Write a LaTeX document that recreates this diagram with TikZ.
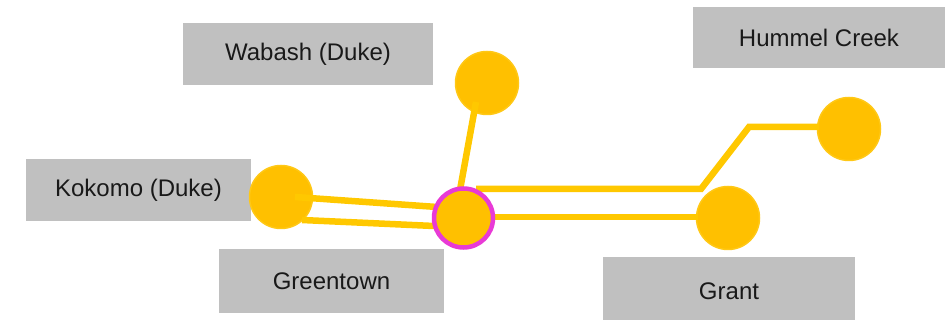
\documentclass[tikz,border=0pt]{standalone}
\usepackage{fontspec}
\setmainfont{Liberation Sans}
\definecolor{boxgray}{HTML}{C0C0C0}
\definecolor{dotfill}{HTML}{FFC000}
\definecolor{dotedge}{HTML}{FFC816}
\definecolor{linecol}{HTML}{FFC800}
\definecolor{hubring}{HTML}{E83AD6}
\tikzset{
  lbl/.style={fill=boxgray, draw=none, inner sep=0pt, font=\fontsize{24}{28}\selectfont, text=black!90},
  dot/.style={circle, fill=dotfill, draw=dotedge, line width=1.5pt, minimum size=63pt, inner sep=0pt},
  hub/.style={circle, fill=dotfill, draw=hubring, line width=4.5pt, minimum size=59pt, inner sep=0pt},
  wire/.style={draw=linecol, line width=6.5pt}
}
\begin{document}
\begin{tikzpicture}[x=1pt,y=-1pt]
\useasboundingbox (0,0) rectangle (951,320);
% labels
\node[lbl, minimum width=250pt, minimum height=62pt] (lwab) at (308,54) {Wabash (Duke)};
\node[lbl, minimum width=252pt, minimum height=61pt] (lhum) at (819,37.5) {Hummel Creek};
\node[lbl, minimum width=225pt, minimum height=62pt] (lkok) at (138.5,190) {Kokomo (Duke)};
\node[lbl, minimum width=225pt, minimum height=64pt] (lgre) at (331.5,281) {Greentown};
\node[lbl, minimum width=252pt, minimum height=68pt] (lgra) at (729,291) {};
\node[font=\fontsize{24}{28}\selectfont, text=black!90] (tgra) at (729,291) {Grant};
% circles
\node[dot] (wab) at (487,83) {};
\node[dot] (kok) at (281,197) {};
\node[dot] (hum) at (849,129) {};
\node[dot] (gra) at (728,218) {};
% connector ends
\coordinate (w1) at (476,102);
\coordinate (w2) at (460,190);
\coordinate (k1) at (295,197);
\coordinate (k2) at (437,207);
\coordinate (k3) at (302,220);
\coordinate (k4) at (434,226);
\coordinate (h1) at (476,189);
\coordinate (h2) at (701,189);
\coordinate (h3) at (749,127);
\coordinate (h4) at (819,127);
\coordinate (g1) at (494,217);
\coordinate (g2) at (698,217);
% connectors
\draw[wire] (w1) -- (w2);
\draw[wire] (k1) -- (k2);
\draw[wire] (k3) -- (k4);
\draw[wire] (h1) -- (h2) -- (h3) -- (h4);
\draw[wire] (g1) -- (g2);
% hub on top
\node[hub] (gre) at (463.5,218) {};
\end{tikzpicture}
\end{document}
